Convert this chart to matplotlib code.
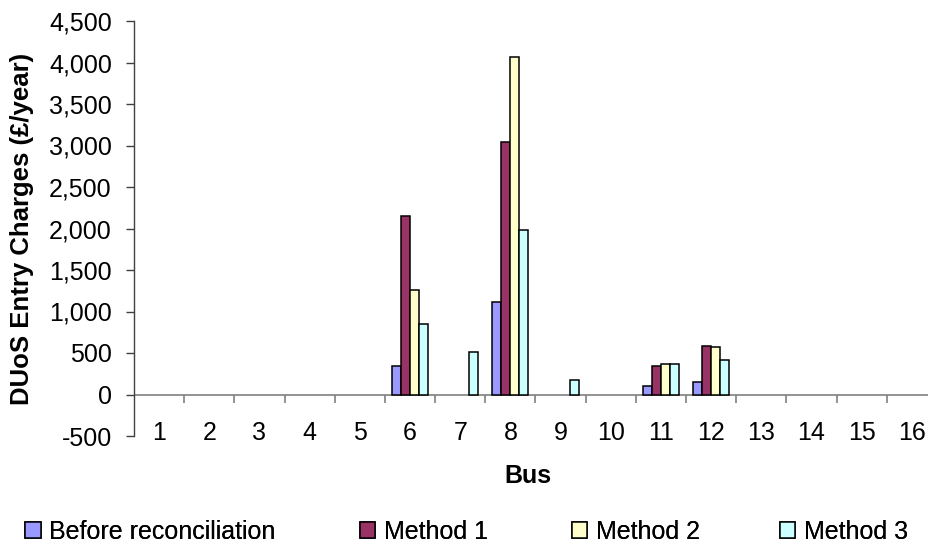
import matplotlib
matplotlib.use("Agg")
import matplotlib.pyplot as plt
import numpy as np
from matplotlib.ticker import FuncFormatter, FixedLocator

plt.rcParams['font.family'] = ['Liberation Sans', 'DejaVu Sans']

buses = [str(i) for i in range(1, 17)]
before = [0, 0, 0, 0, 0, 345, 0, 1110, 0, 0, 105, 150, 0, 0, 0, 0]
method1 = [0, 0, 0, 0, 0, 2155, 0, 3040, 0, 0, 345, 590, 0, 0, 0, 0]
method2 = [0, 0, 0, 0, 0, 1260, 0, 4065, 0, 0, 365, 570, 0, 0, 0, 0]
method3 = [0, 0, 0, 0, 0, 850, 510, 1985, 170, 0, 365, 412, 0, 0, 0, 0]

series = [
    ("Before reconciliation", before, "#9999FF"),
    ("Method 1", method1, "#993366"),
    ("Method 2", method2, "#FFFFCC"),
    ("Method 3", method3, "#CCFFFF"),
]

FS = 18
W, H = 929, 546
fig = plt.figure(figsize=(W / 100, H / 100), dpi=100)
# plot area runs slightly past the right edge of the figure
ax = fig.add_axes([134 / W, 1 - 436 / H, 803 / W, 415 / H])

x = np.arange(len(buses))
bw = 0.18
for i, (name, vals, col) in enumerate(series):
    v = np.array(vals, dtype=float)
    mask = v != 0
    offs = (i - 1.5) * bw
    ax.bar(x[mask] + offs, v[mask], width=bw, color=col, edgecolor="black",
           linewidth=1.1, label=name, zorder=3)

ax.set_xlim(-0.5, len(buses) - 0.5)
ax.set_ylim(-500, 4500)
ax.set_yticks(np.arange(-500, 4501, 500))
ax.yaxis.set_major_formatter(FuncFormatter(lambda v, p: f"{int(v):,}"))
ax.tick_params(axis='y', direction='out', length=6, width=1, color="#404040",
               labelsize=FS, pad=10)

# category labels sit just above the bottom of the plot area
ax.set_xticks(x)
ax.set_xticklabels(buses)
ax.tick_params(axis='x', length=0, labelsize=FS, pad=-11)

for s in ['top', 'right', 'bottom']:
    ax.spines[s].set_visible(False)
ax.spines['left'].set_color('#404040')
ax.spines['left'].set_linewidth(1)

# zero line with category boundary tick marks
ax.axhline(0, color="#808080", linewidth=1.2, zorder=2)
zero_frac = (0 - (-500)) / 5000
sec = ax.secondary_xaxis(zero_frac)
sec.xaxis.set_major_locator(FixedLocator(np.arange(0.5, len(buses) - 0.5, 1.0)))
sec.xaxis.set_ticks_position('bottom')
sec.tick_params(axis='x', direction='out', length=6, width=1.2, color="#808080",
                labelbottom=False, labeltop=False)
sec.spines['bottom'].set_visible(False)
sec.spines['top'].set_visible(False)

ax.set_ylabel("DUoS Entry Charges (£/year)", fontsize=18.5, fontweight='bold')
ax.yaxis.set_label_coords((34 - 134) / 803, 0.5)
ax.set_xlabel("Bus", fontsize=FS, fontweight='bold')
ax.xaxis.set_label_coords((528 - 134) / 803, -0.068)

# one legend entry per slot along the bottom edge
handles, labels = ax.get_legend_handles_labels()
slots = [25, 360, 572, 780]
for h, lab, px in zip(handles, labels, slots):
    leg = fig.legend([h], [lab], loc='center left', bbox_to_anchor=(px / W, 14 / H),
                     frameon=False, fontsize=FS, handlelength=0.62, handleheight=0.62,
                     handletextpad=0.34, borderpad=0, borderaxespad=0)
    fig.add_artist(leg)

fig.savefig("out.png", dpi=100)
